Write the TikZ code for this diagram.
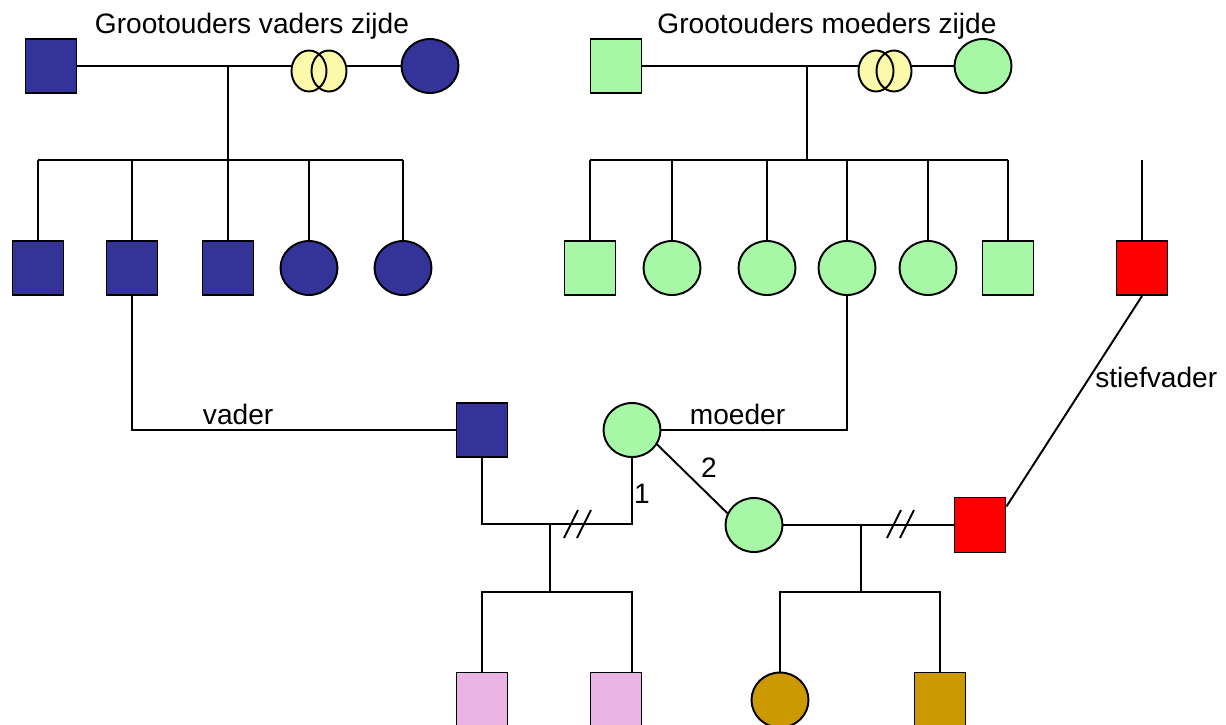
\documentclass[tikz,border=0pt]{standalone}
\usepackage{fontspec}
\setmainfont{Liberation Sans}
\usetikzlibrary{shapes.geometric}

\definecolor{navy}{RGB}{51,51,153}
\definecolor{groen}{RGB}{166,247,166}
\definecolor{geel}{RGB}{250,250,170}
\definecolor{rood}{RGB}{255,0,0}
\definecolor{roze}{RGB}{234,180,228}
\definecolor{goud}{RGB}{204,153,0}

\def\px{0.02cm}
\tikzset{
  man/.style={draw, line width=1.1pt, rectangle, inner sep=0, minimum width=51*\px, minimum height=54*\px},
  vrouw/.style={draw, line width=1.1pt, ellipse, inner sep=0, minimum width=57*\px, minimum height=54*\px},
  ring/.style={line width=1.1pt, ellipse, inner sep=0, minimum width=35*\px, minimum height=41*\px},
  lijn/.style={line width=1.1pt},
  tekst/.style={font=\fontsize{16}{19}\selectfont, inner sep=0},
}

\begin{document}
\begin{tikzpicture}[x=\px, y=-\px]

    \useasboundingbox (0,0) rectangle (1226,724);

	%grootouders
    \node[tekst, anchor=base] (tv) at (252,33) {Grootouders vaders zijde};
    \node[tekst, anchor=base] (tm) at (827,33) {Grootouders moeders zijde};

    \node[man, fill=navy] (gv1) at (51,66) {};
    \node[vrouw, fill=navy] (gm1) at (430,66) {};
    \node[man, fill=groen] (gv2) at (616,66) {};
    \node[vrouw, fill=groen] (gm2) at (983,66) {};

    \draw[lijn] (gv1) -- (gm1);
    \draw[lijn] (gv2) -- (gm2);

	%ringen: eerst vullen, dan de randen
    \foreach \i/\name in {309/r1, 329/r2, 876/r3, 894/r4}{
         \node[ring, fill=geel] (\name) at (\i,71) {};
    }
    \foreach \i/\name in {309/r1rand, 329/r2rand, 876/r3rand, 894/r4rand}{
         \node[ring, draw] (\name) at (\i,71) {};
    }

    \coordinate (dv) at (228,66);
    \coordinate (dm) at (807,66);
    \coordinate (dvb) at (228,160);
    \coordinate (dmb) at (807,160);

	%kinderen vaders zijde
    \foreach \i/\name in {38/vk1, 132/vk2, 228/vk3}{
         \node[man, fill=navy] (\name) at (\i,268) {};
         \draw[lijn] (\name.north) -- (\name.north |- dvb);
    }
    \foreach \i/\name in {309/vk4, 403/vk5}{
         \node[vrouw, fill=navy] (\name) at (\i,268) {};
         \draw[lijn] (\name.north) -- (\name.north |- dvb);
    }
    \draw[lijn] (dv) -- (dvb);
    \draw[lijn] (vk1.north |- dvb) -- (vk5.north |- dvb);

	%kinderen moeders zijde
    \foreach \i/\name in {590/mk1, 1008/mk6}{
         \node[man, fill=groen] (\name) at (\i,268) {};
         \draw[lijn] (\name.north) -- (\name.north |- dmb);
    }
    \foreach \i/\name in {672/mk2, 767/mk3, 847/mk4, 928/mk5}{
         \node[vrouw, fill=groen] (\name) at (\i,268) {};
         \draw[lijn] (\name.north) -- (\name.north |- dmb);
    }
    \draw[lijn] (dm) -- (dmb);
    \draw[lijn] (mk1.north |- dmb) -- (mk6.north |- dmb);

	%stiefvader
    \node[man, fill=rood] (sv) at (1142,268) {};
    \coordinate (svtop) at (1142,160);
    \draw[lijn] (svtop) -- (sv);

	%ouders
    \node[man, fill=navy] (vader) at (482,430) {};
    \node[vrouw, fill=groen] (moeder) at (632,430) {};
    \node[vrouw, fill=groen] (moeder2) at (754,525) {};
    \node[man, fill=rood, minimum height=55*\px] (sv2) at (980,525) {};

    \draw[lijn] (vk2.south) |- node[tekst, pos=0.664, anchor=base, yshift=6*\px] (lv) {vader} (vader.west);
    \draw[lijn] (mk4.south) |- node[tekst, pos=0.795, anchor=base, yshift=6*\px] (lm) {moeder} (moeder.east);

    \coordinate (h1) at (550,524);
    \coordinate (h2) at (861,525);
    \draw[lijn] (vader.south) |- (h1) -| (moeder.south);
    \draw[lijn] (moeder.-30) -- (moeder2.156);
    \draw[lijn] (moeder2) -- (sv2);
    \draw[lijn] (sv.south) -- (sv2.35);

    \node[tekst, anchor=base] (n1) at (642,503) {1};
    \node[tekst, anchor=base] (n2) at (709,477) {2};
    \node[tekst, anchor=base west] (ls) at (1095,387) {stiefvader};

	%scheiding
    \foreach \x in {571, 894}{
         \foreach \o in {0, 13}{
              \draw[lijn] (\x+\o-7,538) -- (\x+\o+7,510);
         }
    }

	%kinderen
    \coordinate (kb1) at (550,592);
    \coordinate (kb2) at (861,592);
    \node[man, fill=roze, minimum height=55*\px] (k1) at (482,700) {};
    \node[man, fill=roze, minimum height=55*\px] (k2) at (616,700) {};
    \node[vrouw, fill=goud, minimum height=55*\px] (k3) at (780,700) {};
    \node[man, fill=goud, minimum height=55*\px] (k4) at (940,700) {};

    \draw[lijn] (h1) -- (kb1);
    \draw[lijn] (k1.north) |- (kb1) -| (moeder.south |- k2.north);
    \draw[lijn] (h2) -- (kb2);
    \draw[lijn] (k3.north) |- (kb2) -| (k4.north);

\end{tikzpicture}
\end{document}
